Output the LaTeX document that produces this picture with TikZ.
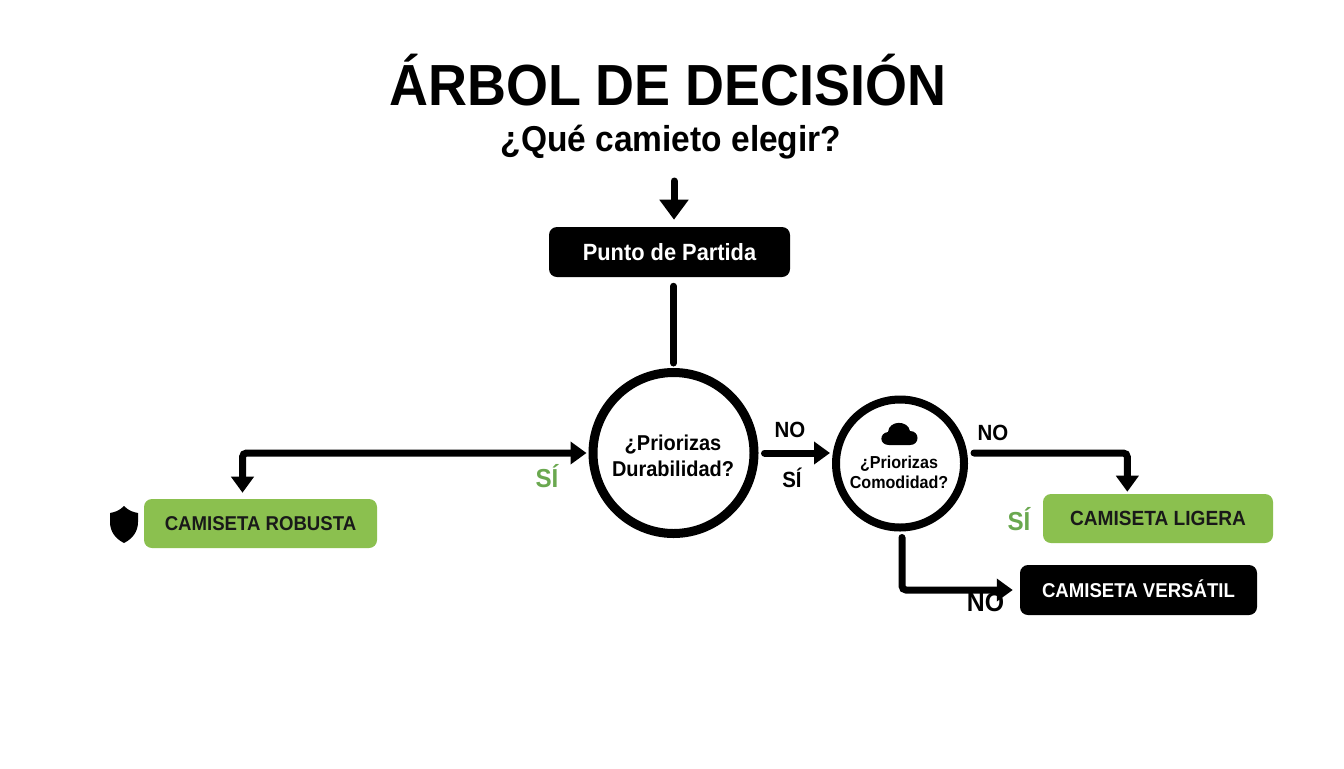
\documentclass[tikz,border=0pt]{standalone}
\usepackage{fontspec}
\setmainfont[FakeStretch=0.93]{Liberation Sans}
\usetikzlibrary{arrows.meta}
\definecolor{boxgreen}{HTML}{8BC04F}
\definecolor{labelgreen}{HTML}{6AA84F}
\tikzset{
  conn/.style={draw=black,line width=5.25pt,line cap=round,rounded corners=3pt},
  headA/.tip={Triangle[length=12pt,width=16.5pt]},
  headB/.tip={Triangle[length=15pt,width=21pt]},
  leaf/.style={rounded corners=6pt,minimum height=36.75pt,inner sep=0pt,text height=10.74pt,text depth=0pt,font=\bfseries\fontsize{15}{17}\selectfont},
  greenleaf/.style={leaf,fill=boxgreen,text=black!90},
  blackleaf/.style={leaf,fill=black,text=white},
  decision/.style={circle,draw=black,fill=white,inner sep=0pt},
  lab/.style={font=\bfseries\fontsize{16.5}{20}\selectfont,inner sep=0pt},
  greenlab/.style={lab,text=labelgreen,font=\bfseries\fontsize{19.5}{22}\selectfont},
}
\begin{document}
\begin{tikzpicture}[x=0.75pt,y=-0.75pt]
\path[use as bounding box,fill=white] (0,0) rectangle (1344,768);
\node[anchor=base,font=\bfseries\fontsize{43.5}{50}\selectfont,inner sep=0pt] (title) at (668,105) {ÁRBOL DE DECISIÓN};
\node[anchor=base,font=\bfseries\fontsize{27}{30}\selectfont,inner sep=0pt] (sub) at (671,151) {¿Qué camieto elegir?};
\node[leaf,fill=black,text=white,minimum width=180.75pt,minimum height=37.5pt,text height=12.6pt,font=\bfseries\fontsize{17.6}{20}\selectfont] (start) at (669.5,252) {Punto de Partida};
\node[decision,line width=6.75pt,minimum size=120.75pt] (c1) at (673.5,453) {};
\node[font=\bfseries\fontsize{16.1}{19.5}\selectfont,align=center,inner sep=0pt] (c1t) at (673,456) {¿Priorizas\\Durabilidad?};
\node[decision,line width=6pt,minimum size=96pt] (c2) at (900,463.5) {};
\node[font=\bfseries\fontsize{13}{15}\selectfont,align=center,inner sep=0pt] (c2t) at (899,472) {¿Priorizas\\Comodidad?};
\node[greenleaf,minimum width=174.75pt] (robusta) at (260.5,523.5) {CAMISETA ROBUSTA};
\node[greenleaf,minimum width=172.5pt,text height=11pt,font=\bfseries\fontsize{15.4}{17}\selectfont] (ligera) at (1158,518.5) {CAMISETA LIGERA};
\node[blackleaf,minimum width=177.75pt,minimum height=37.5pt] (versatil) at (1138.5,590) {CAMISETA VERSÁTIL};
% shield
\fill[black] (124,506) .. controls (119,511) and (115,512) .. (110,513) -- (110,522) .. controls (110,532) and (116,539) .. (124,543) .. controls (132,539) and (138,532) .. (138,522) -- (138,513) .. controls (133,512) and (129,511) .. (124,506) -- cycle;
% cloud
\fill[black] (889,445) .. controls (879,445) and (879,433) .. (888,432) .. controls (889,420) and (908,420) .. (910,431) .. controls (920,431) and (920,445) .. (910,445) -- cycle;
% connectors
\coordinate (topstart) at (674,181);
\draw[conn,-{headB},shorten >=5.25pt] (topstart) -- (start.north -| topstart);
\draw[conn,shorten <=6.75pt,shorten >=3.75pt] (start.south -| c1.north) -- (c1.north);
\draw[conn,{headA}-{headA},shorten >=1.5pt,shorten <=4.5pt] ([xshift=-13.5pt]robusta.north) |- (c1.west);
\draw[conn,-{headA},shorten <=4.5pt,shorten >=1.5pt] (c1.east) -- (c2.west |- c1.east);
\draw[conn,-{headA},shorten <=4.5pt,shorten >=1.5pt] (c2.east |- c1.east) -| ([xshift=-23pt]ligera.north);
\draw[conn,-{headA},shorten <=4.5pt,shorten >=5.25pt] ([xshift=1.5pt]c2.south) |- (versatil.west);
% labels
\node[lab] (no1) at (790,430) {NO};
\node[lab] (si1) at (792,478) {SÍ};
\node[lab] (no2) at (993,433) {NO};
\node[lab,font=\bfseries\fontsize{20}{22}\selectfont] (no3) at (985.5,602) {NO};
\node[greenlab] (si2) at (547,476) {SÍ};
\node[greenlab] (si3) at (1019,519) {SÍ};
\end{tikzpicture}
\end{document}
